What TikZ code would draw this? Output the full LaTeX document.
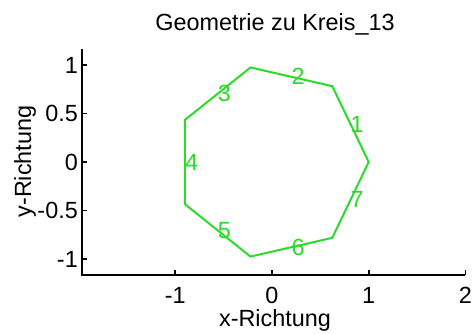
\documentclass[tikz,border=0pt]{standalone}
\usepackage{fontspec}
\setmainfont{Liberation Sans}
\usepackage{tikz}
\usetikzlibrary{positioning,calc}
\usepackage{xcolor}
\definecolor{kreisgreen}{RGB}{40,220,40}

\tikzset{
  plottext/.style={font=\fontsize{23.4}{27}\selectfont, inner sep=0pt},
  axisline/.style={line width=1.7pt, black},
  kante/.style={line width=2pt, kreisgreen, line join=miter},
  nummer/.style={plottext, text=kreisgreen, anchor=west},
}

\begin{document}
\begin{tikzpicture}[x=1pt,y=-1pt]
  \useasboundingbox (0,0) rectangle (473,333);
  % axes
  \coordinate (ursprung) at (82,275);
  \coordinate (xende) at (465.4,275);
  \coordinate (yende) at (82,49);
  \draw[axisline] (yende) -- (ursprung) -- (xende);
  % x ticks
  \foreach \t [count=\i] in {-1,0,1,2} {
    \coordinate (xt\i) at ({272+96.7*\t},275);
    \draw[axisline] (xt\i) -- ++(0,-5);
    \node[plottext, anchor=north] (xl\i) at ({272+96.7*\t},287) {\t};
  }
  % y ticks
  \foreach \v [count=\i] in {1,0.5,0,-0.5,-1} {
    \coordinate (yt\i) at (82,{162-97*\v});
    \draw[axisline] (yt\i) -- ++(5,0);
    \node[plottext, anchor=east] (yl\i) at (78,{162-97*\v}) {\v};
  }
  \node[plottext, anchor=base] (titel) at (275,30.5) {Geometrie zu Kreis\_13};
  \node[plottext, anchor=base] (xlabel) at (275,326) {x-Richtung};
  \node[plottext, anchor=base, rotate=90] (ylabel) at (31,161.5) {y-Richtung};
  % heptagon
  \begin{scope}[shift={(272,162)}, x=96.7pt, y=97pt]
    \foreach \k in {0,...,6}
      \coordinate (p\k) at ({cos(360/7*\k)},{sin(360/7*\k)});
    \draw[kante] (p0) -- (p1) -- (p2) -- (p3) -- (p4) -- (p5) -- (p6) -- cycle;
    \foreach \k in {1,...,7} {
      \pgfmathtruncatemacro{\a}{\k-1}
      \pgfmathtruncatemacro{\n}{mod(\k,7)}
      \node[nummer] (n\k) at ($(p\a)!0.5!(p\n)$) {\k};
    }
  \end{scope}
\end{tikzpicture}
\end{document}
